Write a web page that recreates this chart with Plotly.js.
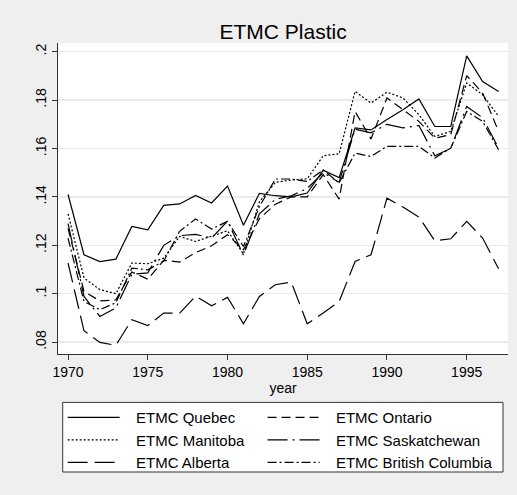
<!DOCTYPE html>
<html>
<head>
<meta charset="utf-8">
<script src="https://cdn.plot.ly/plotly-3.0.1.min.js"></script>
<style>html,body{margin:0;padding:0;background:#efefef;}#chart{width:517px;height:495px;}</style>
</head>
<body>
<div id="chart"></div>
<script>
const years = [1970,1971,1972,1973,1974,1975,1976,1977,1978,1979,1980,1981,1982,1983,1984,1985,1986,1987,1988,1989,1990,1991,1992,1993,1994,1995,1996,1997];
const quebec = [.141,.1161,.1133,.1143,.1278,.1264,.1365,.1371,.1406,.1375,.1445,.1283,.1415,.1405,.1400,.1416,.1510,.1480,.1685,.1677,.1720,.1760,.1805,.1691,.1691,.1983,.1877,.1836];
const ontario = [.127,.101,.097,.0975,.109,.106,.1138,.1131,.117,.1198,.1244,.1182,.131,.137,.140,.140,.1492,.1391,.1753,.1639,.1809,.1760,.1712,.1643,.1657,.1901,.1829,.1671];
const manitoba = [.133,.1065,.1017,.1000,.1127,.1124,.1147,.1237,.1216,.1237,.1260,.1165,.138,.146,.147,.1475,.157,.1578,.1836,.1788,.1833,.1809,.1740,.1650,.1671,.1871,.1822,.1733];
const saskatchewan = [.129,.0989,.0906,.0942,.1080,.1086,.1200,.1240,.1245,.1230,.1300,.1160,.133,.139,.1405,.1435,.1500,.1460,.1680,.1665,.1700,.1685,.1695,.1570,.1600,.1774,.1727,.1602];
const alberta = [.1127,.0847,.0799,.0787,.0893,.0868,.0920,.0920,.0990,.0950,.0985,.0876,.0989,.1037,.1048,.0876,.0920,.0968,.1133,.1161,.1395,.1358,.1317,.1219,.1227,.1299,.1230,.1103];
const britishColumbia = [.123,.0968,.0934,.0963,.1106,.1099,.1135,.1258,.1309,.1267,.1299,.1195,.136,.1474,.1474,.1464,.1512,.1458,.1581,.1567,.1609,.1609,.1609,.1561,.1602,.1753,.1712,.1595];

const seriesNames = ["ETMC Quebec","ETMC Ontario","ETMC Manitoba","ETMC Saskatchewan","ETMC Alberta","ETMC British Columbia"];
const seriesValues = [quebec, ontario, manitoba, saskatchewan, alberta, britishColumbia];
const dashes = ["solid","9px,5px","2px,2px","20px,5px,2px,5px","20px,7px","9px,3px,2px,3px"];
const legendColumn = ["legend","legend2","legend","legend2","legend","legend2"];

const xTicks = [1970,1975,1980,1985,1990,1995];
const yTickVals = [0.08,0.10,0.12,0.14,0.16,0.18,0.20];
const yTickText = [".08",".1",".12",".14",".16",".18",".2"];

const NB = "\u00A0\u00A0\u2009";
const traces = seriesNames.map((n,i)=>({
  x: years, y: seriesValues[i], name: NB + n, type: 'scatter', mode: 'lines',
  legend: legendColumn[i],
  line: {color: '#000', width: 1.2, dash: dashes[i]}
}));

const font = {family: 'Liberation Sans, Arial, sans-serif', color: '#000'};

const legendBase = {
  orientation: 'v', xanchor: 'left', y: 1 - 401.2/495, yanchor: 'top', yref: 'container',
  bgcolor: 'rgba(0,0,0,0)', borderwidth: 0, itemwidth: 52,
  font: Object.assign({size: 15}, font), tracegroupgap: 0
};

const layout = {
  width: 517, height: 495,
  paper_bgcolor: '#efefef', plot_bgcolor: '#ffffff',
  margin: {l: 58, r: 9, t: 43, b: 141},
  font: Object.assign({size: 14}, font),
  title: {text: 'ETMC Plastic', font: Object.assign({size: 21}, font), x: 0.5475, xanchor: 'center', y: 1 - 32/495, yanchor: 'middle', yref: 'container'},
  xaxis: {
    range: [1969.37, 1997.59], tickvals: xTicks, ticks: 'outside', ticklen: 5, tickcolor: '#333',
    showgrid: false, zeroline: false, showline: true, linecolor: '#333', linewidth: 1,
    title: {text: 'year', font: Object.assign({size: 14}, font), standoff: 2},
    tickfont: Object.assign({size: 14}, font), automargin: false
  },
  yaxis: {
    range: [0.0751, 0.2036], tickvals: yTickVals, ticktext: yTickText, ticks: 'outside', ticklen: 5, tickcolor: '#333',
    tickangle: -90, showgrid: true, gridcolor: '#eaeaea', gridwidth: 1.5, zeroline: false,
    showline: true, linecolor: '#333', linewidth: 1,
    tickfont: Object.assign({size: 14}, font), automargin: false
  },
  showlegend: true,
  legend: Object.assign({x: 0.0104}, legendBase),
  legend2: Object.assign({x: (262.7-58)/450.3}, legendBase),
  shapes: [{
    type: 'rect', xref: 'paper', yref: 'paper', layer: 'above',
    x0: (62.7-58)/450.3, x1: (503.3-58)/450.3,
    y0: (354.3-402.7)/311, y1: (354.3-472.3)/311,
    fillcolor: '#ffffff', line: {color: '#333', width: 1}
  }]
};

Plotly.newPlot('chart', traces, layout, {displayModeBar: false, staticPlot: true});
</script>
</body>
</html>
